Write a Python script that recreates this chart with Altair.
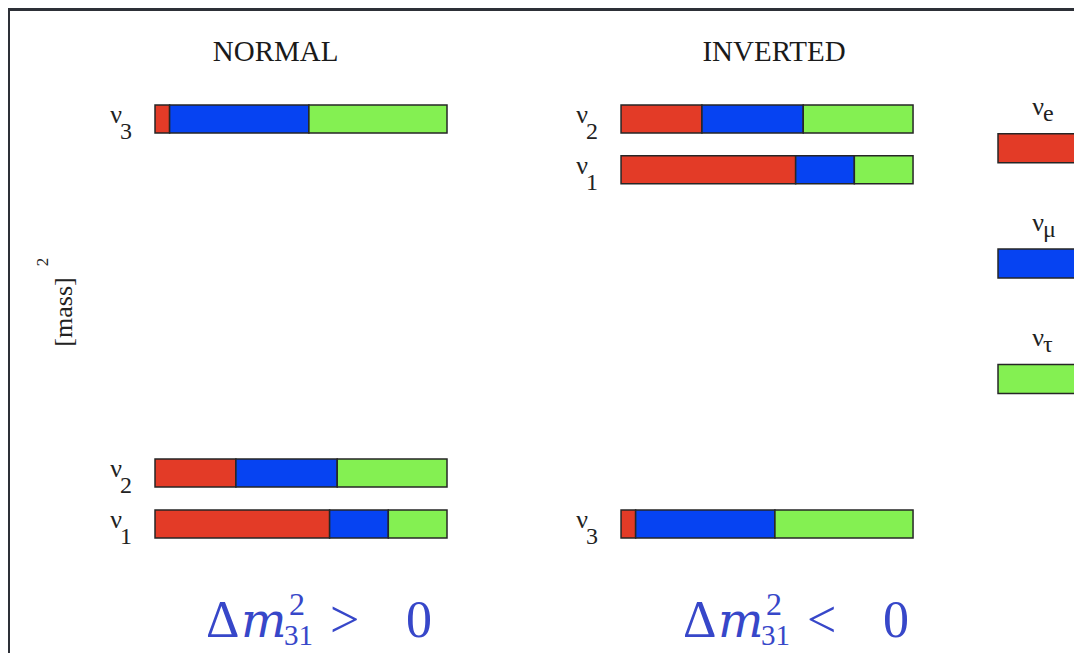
import altair as alt
import pandas as pd

# ---------------- data ----------------
orderings = ["NORMAL", "INVERTED"]
relations = [">", "<"]
state_subs = ["1", "2", "3"]                 # nu_1, nu_2, nu_3
flavors = ["e", "μ", "τ"]
flavor_colors = ["#e33b27", "#0643f2", "#84f052"]
# flavour content of each mass state (fractions of the bar)
frac_e = [0.598, 0.277, 0.050]
frac_mu = [0.201, 0.347, 0.477]
frac_tau = [0.201, 0.376, 0.473]
# [mass]^2 level of each state (arbitrary units) in each ordering
levels_normal = [0.0, 0.126, 1.0]
levels_inverted = [0.875, 1.0, 0.0]
y_title = "[mass]"

# ---------------- layout constants ----------------
W, H = 1064, 642
XMIN = -0.4966
XMAX = XMIN + W / 292.0
YMAX = 513 / 405.0
YMIN = YMAX - H / 405.0
INV_OFF = 1.596
LEG_X0, LEG_X1 = 2.887, 3.168
LEG_TOP, LEG_STEP = 0.928, 0.285
SERIF = "Liberation Serif"
TXT = "#222222"

levels = {"NORMAL": levels_normal, "INVERTED": levels_inverted}
fracs = [frac_e, frac_mu, frac_tau]

rows = []
for o in orderings:
    for i, s in enumerate(state_subs):
        for k, f in enumerate(flavors):
            rows.append({"ordering": o, "state": s, "level": levels[o][i],
                         "flavor": f, "forder": k, "frac": fracs[k][i]})
bars_df = pd.DataFrame(rows)

lab_df = pd.DataFrame([{"ordering": o, "state": s, "level": levels[o][i]}
                       for o in orderings for i, s in enumerate(state_subs)])
ord_df = pd.DataFrame({"ordering": orderings, "rel": relations})
leg_df = pd.DataFrame({"flavor": flavors, "idx": list(range(len(flavors)))})

off_expr = f"(datum.ordering == 'INVERTED' ? {INV_OFF} : 0)"

xs = alt.Scale(domain=[XMIN, XMAX], nice=False, zero=False, padding=0)
ys = alt.Scale(domain=[YMIN, YMAX], nice=False, zero=False, padding=0)
cs = alt.Scale(domain=flavors, range=flavor_colors)

bars = alt.Chart(bars_df).transform_stack(
    stack="frac", groupby=["ordering", "state"], as_=["s0", "s1"],
    sort=[alt.SortField("forder", order="ascending")]
).transform_calculate(
    x0=f"datum.s0 + {off_expr}", x1=f"datum.s1 + {off_expr}"
).mark_bar(height=28, stroke="#262626", strokeWidth=1.5, orient="horizontal").encode(
    x=alt.X("x0:Q", scale=xs, axis=None),
    x2="x1:Q",
    y=alt.Y("level:Q", scale=ys, axis=None),
    color=alt.Color("flavor:N", scale=cs, legend=None),
)

lab_base = alt.Chart(lab_df).transform_calculate(xl=off_expr).encode(
    x=alt.X("xl:Q", scale=xs, axis=None),
    y=alt.Y("level:Q", scale=ys, axis=None),
)
nu = lab_base.mark_text(text="ν", align="right", baseline="alphabetic", dx=-33, dy=4,
                        font=SERIF, fontSize=26, color=TXT)
nu_sub = lab_base.mark_text(align="left", baseline="alphabetic", dx=-35, dy=20,
                            font=SERIF, fontSize=24, color=TXT).encode(text="state:N")

titles = alt.Chart(ord_df).transform_calculate(
    xt=f"{off_expr} + (datum.ordering == 'NORMAL' ? 0.413 : 0.524)"
).mark_text(align="center", baseline="alphabetic", font=SERIF, fontSize=29, color="#1a1a1a").encode(
    x=alt.X("xt:Q", scale=xs, axis=None), y=alt.value(50), text="ordering:N")

f_base = alt.Chart(ord_df).transform_calculate(
    xf=f"{off_expr} + (datum.ordering == 'NORMAL' ? 0.4897 : 0.5274)").encode(
    x=alt.X("xf:Q", scale=xs, axis=None))
FC = "#3747c9"
FY = 626
f_delta = f_base.mark_text(text="Δ", align="left", baseline="alphabetic", dx=-92,
                           font=SERIF, fontSize=52, color=FC).encode(y=alt.value(FY))
f_m = f_base.mark_text(text="m", align="left", baseline="alphabetic", dx=-57,
                       font="DejaVu Serif", fontSize=48, fontStyle="italic", color=FC).encode(y=alt.value(FY))
f_sup = f_base.mark_text(text="2", align="left", baseline="alphabetic", dx=-9,
                         font=SERIF, fontSize=32, color=FC).encode(y=alt.value(FY - 22))
f_sub = f_base.mark_text(text="31", align="left", baseline="alphabetic", dx=-14,
                         font=SERIF, fontSize=29, color=FC).encode(y=alt.value(634))
f_rel = f_base.mark_text(align="left", baseline="alphabetic", dx=32,
                         font=SERIF, fontSize=52, color=FC).encode(
    y=alt.value(FY), text=alt.Text("rel:N"))
f_zero = f_base.mark_text(text="0", align="left", baseline="alphabetic", dx=108,
                          font=SERIF, fontSize=52, color=FC).encode(y=alt.value(FY))

ylab = alt.Chart(pd.DataFrame({"t": [y_title]})).mark_text(
    angle=270, align="center", baseline="middle", font=SERIF, fontSize=26, color=TXT
).encode(x=alt.value(54), y=alt.value(301), text="t:N")
ylab_sup = alt.Chart(pd.DataFrame({"t": ["2"]})).mark_text(
    angle=270, align="center", baseline="middle", font=SERIF, fontSize=17, color=TXT
).encode(x=alt.value(33), y=alt.value(251), text="t:N")

leg_base = alt.Chart(leg_df).transform_calculate(
    lx0=f"{LEG_X0}", lx1=f"{LEG_X1}", lxc=f"({LEG_X0} + {LEG_X1}) / 2",
    ly=f"{LEG_TOP} - datum.idx * {LEG_STEP}")
leg_bars = leg_base.mark_bar(height=29, stroke="#262626", strokeWidth=1.5, orient="horizontal").encode(
    x=alt.X("lx0:Q", scale=xs, axis=None), x2="lx1:Q",
    y=alt.Y("ly:Q", scale=ys, axis=None),
    color=alt.Color("flavor:N", scale=cs, legend=None))
leg_nu = leg_base.mark_text(text="ν", align="right", baseline="alphabetic", dx=5, dy=-33,
                            font=SERIF, fontSize=26, color=TXT).encode(
    x=alt.X("lxc:Q", scale=xs, axis=None), y=alt.Y("ly:Q", scale=ys, axis=None))
leg_sub = leg_base.mark_text(align="left", baseline="alphabetic", dx=4, dy=-27,
                             font=SERIF, fontSize=24, color=TXT).encode(
    x=alt.X("lxc:Q", scale=xs, axis=None), y=alt.Y("ly:Q", scale=ys, axis=None),
    text="flavor:N")

chart = alt.layer(
    bars, nu, nu_sub, titles, f_delta, f_m, f_sup, f_sub, f_rel, f_zero,
    ylab, ylab_sup, leg_bars, leg_nu, leg_sub
).properties(
    width=W, height=H,
    autosize=alt.AutoSizeParams(type="none"),
    padding={"left": 2, "top": 3, "right": 0, "bottom": 0},
    background="#2d3037",
).configure_view(fill="white", stroke=None)

chart.save("out.html", embed_options={"renderer": "svg", "actions": False})
